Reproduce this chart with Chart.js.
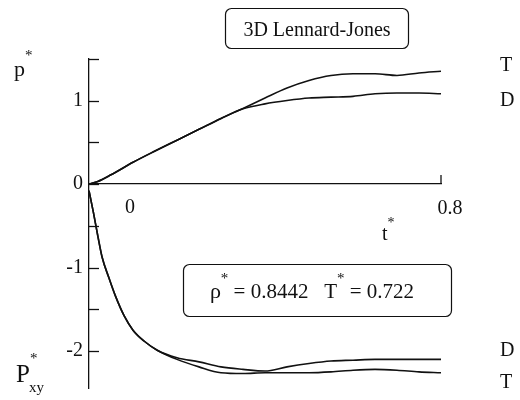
<!DOCTYPE html>
<html>
<head>
<meta charset="utf-8">
<script src="https://cdn.jsdelivr.net/npm/chart.js@4/dist/chart.umd.min.js"></script>
<style>
  html, body { margin: 0; padding: 0; background: #fff; }
  #wrap { width: 520px; height: 400px; }
</style>
</head>
<body>
<div id="wrap"><canvas id="chart" width="520" height="400"></canvas></div>
<script>
// reduced time t* for the pressure curves (upper half)
const tUpper = [0, 0.02, 0.05, 0.1, 0.15, 0.2, 0.25, 0.3, 0.35, 0.4, 0.45, 0.5, 0.55, 0.6, 0.65, 0.7, 0.75, 0.8];
const pT = [0, 0.03, 0.11, 0.26, 0.395, 0.525, 0.655, 0.785, 0.905, 1.03, 1.15, 1.24, 1.30, 1.32, 1.32, 1.30, 1.33, 1.35];
const pD = [0, 0.03, 0.11, 0.26, 0.395, 0.525, 0.655, 0.785, 0.90, 0.96, 1.00, 1.03, 1.04, 1.05, 1.08, 1.09, 1.09, 1.08];

// reduced time t* for the shear stress curves (lower half)
const tLower = [0, 0.01, 0.02, 0.03, 0.045, 0.06, 0.08, 0.1, 0.125, 0.155, 0.2, 0.25, 0.3, 0.35, 0.4, 0.45, 0.5, 0.55, 0.6, 0.65, 0.7, 0.75, 0.8];
const pxyT = [-0.08, -0.34, -0.62, -0.88, -1.12, -1.34, -1.58, -1.75, -1.88, -1.99, -2.10, -2.19, -2.26, -2.27, -2.26, -2.26, -2.26, -2.25, -2.23, -2.22, -2.23, -2.25, -2.26];
const pxyD = [-0.08, -0.34, -0.62, -0.88, -1.12, -1.34, -1.58, -1.75, -1.88, -1.99, -2.08, -2.13, -2.19, -2.22, -2.24, -2.19, -2.15, -2.12, -2.11, -2.10, -2.10, -2.10, -2.10];

const yTickLabels = { '1': '1', '0': '0', '-1': '-1', '-2': '-2' };

const SERIF = '"Liberation Serif", "Times New Roman", serif';
const INK = '#111';

function pairs(xs, ys) {
    return xs.map((x, i) => ({ x: x, y: ys[i] }));
}

// draw a run of text pieces [text, size, dy] starting at x (or centered)
function drawRich(ctx, parts, x, y, center) {
    let total = 0;
    parts.forEach(p => {
        ctx.font = p[1] + 'px ' + SERIF;
        total += ctx.measureText(p[0]).width;
    });
    let cx = center ? x - total / 2 : x;
    ctx.textAlign = 'left';
    ctx.textBaseline = 'alphabetic';
    parts.forEach(p => {
        ctx.font = p[1] + 'px ' + SERIF;
        ctx.fillText(p[0], cx, y + (p[2] || 0));
        cx += ctx.measureText(p[0]).width;
    });
}

function roundBox(ctx, x, y, w, h, r) {
    ctx.beginPath();
    ctx.roundRect(x, y, w, h, r);
    ctx.stroke();
}

const decorPlugin = {
    id: 'decor',
    afterDraw(chart) {
        const ctx = chart.ctx;
        const xs = chart.scales.x;
        const ys = chart.scales.y;
        const left = chart.chartArea.left;
        const y0 = ys.getPixelForValue(0);
        ctx.save();
        ctx.strokeStyle = INK;
        ctx.fillStyle = INK;
        ctx.lineWidth = 1.3;

        // inward ticks on the y axis
        ys.ticks.forEach(t => {
            const py = Math.round(ys.getPixelForValue(t.value)) + 0.5;
            ctx.beginPath();
            ctx.moveTo(left, py);
            ctx.lineTo(left + 10, py);
            ctx.stroke();
        });

        // end tick of the time axis
        const xEnd = xs.getPixelForValue(0.8);
        ctx.beginPath();
        ctx.moveTo(xEnd, y0);
        ctx.lineTo(xEnd, y0 - 9);
        ctx.stroke();

        // time axis labels
        ctx.font = '20px ' + SERIF;
        ctx.textAlign = 'center';
        ctx.textBaseline = 'middle';
        ctx.fillText('0', xs.getPixelForValue(0) + 41, y0 + 24);
        ctx.fillText('0.8', xEnd + 9, y0 + 25);
        drawRich(ctx, [['t', 20, 0], ['*', 14, -13]], 382, 240, false);

        // axis titles
        drawRich(ctx, [['p', 22, 0], ['*', 15, -16]], 14, 76, false);
        drawRich(ctx, [['P', 25, 0], ['*', 15, -19]], 16, 382, false);
        ctx.font = '15px ' + SERIF;
        ctx.textAlign = 'left';
        ctx.fillText('xy', 29, 392);

        // curve labels
        ctx.font = '20px ' + SERIF;
        ctx.textAlign = 'left';
        ctx.textBaseline = 'middle';
        ctx.fillText('T', 500, 66);
        ctx.fillText('D', 500, 101);
        ctx.fillText('D', 500, 351);
        ctx.fillText('T', 500, 383);

        // title box
        ctx.lineWidth = 1.2;
        roundBox(ctx, 225.5, 8.5, 183, 40, 6);
        drawRich(ctx, [['3D Lennard-Jones', 20, 0]], 317, 36, true);

        // state point box
        roundBox(ctx, 183.5, 264.5, 268, 52, 6);
        drawRich(ctx, [
            ['\u03C1', 22, 0], ['*', 15, -15], [' = 0.8442   T', 21, 0], ['*', 15, -15], [' = 0.722', 21, 0]
        ], 312, 298, true);

        ctx.restore();
    }
};

const lineStyle = {
    borderColor: INK,
    borderWidth: 1.6,
    pointRadius: 0,
    cubicInterpolationMode: 'monotone',
    fill: false
};

new Chart(document.getElementById('chart'), {
    type: 'line',
    data: {
        datasets: [
            Object.assign({ label: 'p* T', data: pairs(tUpper, pT) }, lineStyle),
            Object.assign({ label: 'p* D', data: pairs(tUpper, pD) }, lineStyle),
            Object.assign({ label: 'Pxy* T', data: pairs(tLower, pxyT) }, lineStyle),
            Object.assign({ label: 'Pxy* D', data: pairs(tLower, pxyD) }, lineStyle)
        ]
    },
    options: {
        responsive: false,
        animation: false,
        layout: { padding: { left: 49, right: 79, top: 58.75, bottom: 11.4 } },
        plugins: {
            legend: { display: false },
            tooltip: { enabled: false }
        },
        scales: {
            x: {
                type: 'linear',
                min: 0,
                max: 0.8,
                position: { y: 0 },
                grid: { display: false, drawTicks: false },
                border: { display: true, color: INK, width: 1.3 },
                ticks: { display: false },
                afterFit: s => { s.height = 0; s.paddingLeft = 0; s.paddingRight = 0; }
            },
            y: {
                type: 'linear',
                min: -2.45,
                max: 1.5,
                grid: { drawOnChartArea: false, drawTicks: false },
                border: { display: true, color: INK, width: 1.3 },
                ticks: {
                    stepSize: 0.5,
                    includeBounds: false,
                    padding: 6,
                    color: INK,
                    font: { family: SERIF, size: 20 },
                    callback: v => yTickLabels[String(v)] || ''
                },
                afterFit: s => { s.width = 40; s.paddingTop = 0; s.paddingBottom = 0; }
            }
        }
    },
    plugins: [decorPlugin]
});
</script>
</body>
</html>
